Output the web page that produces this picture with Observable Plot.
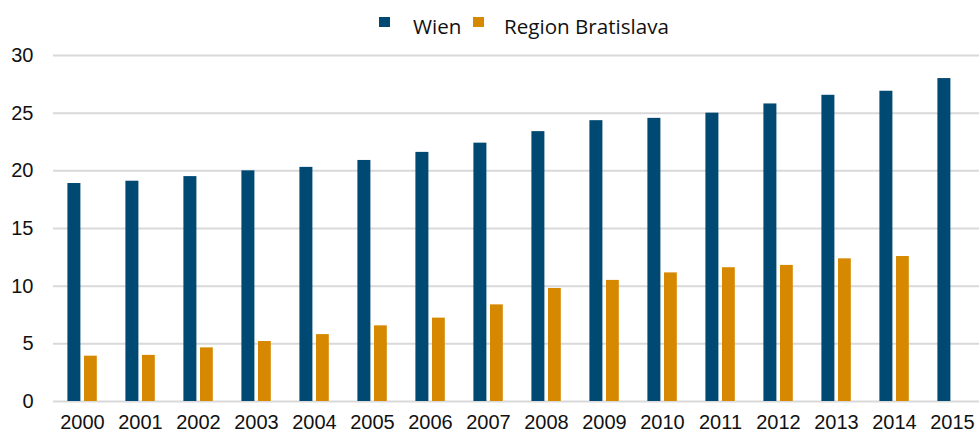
<!DOCTYPE html>
<html>
<head>
<meta charset="utf-8">
<script src="https://cdn.jsdelivr.net/npm/d3@7"></script>
<script src="https://cdn.jsdelivr.net/npm/@observablehq/plot@0.6"></script>
<style>
  html, body { margin: 0; padding: 0; background: #fff; }
  #wrap { width: 979px; height: 434px; position: relative; overflow: hidden; }
  #legend { height: 40px; position: relative; font-family: "Open Sans", sans-serif; font-size: 20.6px; color: #111; }
  .sw { position: absolute; top: 17px; width: 11px; height: 10px; }
  .lt { position: absolute; top: 12px; line-height: 28px; white-space: nowrap; }
  svg { display: block; }
</style>
</head>
<body>
<div id="wrap">
  <div id="legend"></div>
  <div id="chart"></div>
</div>
<script>
const years = ["2000","2001","2002","2003","2004","2005","2006","2007","2008","2009","2010","2011","2012","2013","2014","2015"];
const wien = [18.9, 19.1, 19.5, 20.0, 20.3, 20.9, 21.6, 22.4, 23.4, 24.35, 24.55, 25.0, 25.8, 26.55, 26.9, 28.0];
const bratislava = [3.93, 4.0, 4.65, 5.2, 5.8, 6.56, 7.23, 8.38, 9.8, 10.5, 11.15, 11.6, 11.8, 12.37, 12.57, null];
const seriesNames = ["Wien", "Region Bratislava"];
const colors = ["#004972", "#D68900"];
const yTicks = [0, 5, 10, 15, 20, 25, 30];

const wienData = years.map((y, i) => ({year: y, value: wien[i]}));
const bratData = years.map((y, i) => ({year: y, value: bratislava[i]})).filter(d => d.value != null);

// Legend
const legend = document.getElementById("legend");
const legendPos = [{sw: 379, tx: 413}, {sw: 473, tx: 504}];
seriesNames.forEach((name, i) => {
  const s = document.createElement("div");
  s.className = "sw";
  s.style.left = legendPos[i].sw + "px";
  s.style.background = colors[i];
  legend.appendChild(s);
  const t = document.createElement("div");
  t.className = "lt";
  t.style.left = legendPos[i].tx + "px";
  t.textContent = name;
  legend.appendChild(t);
});

const chart = Plot.plot({
  width: 979,
  height: 394,
  marginTop: 15,
  marginBottom: 33,
  marginLeft: 53,
  marginRight: 0,
  style: {fontFamily: "'Liberation Sans', Arial, sans-serif", fontSize: "20px", color: "#111", background: "#fff"},
  x: {type: "band", domain: years, range: [51, 983.8], padding: 0, label: null},
  y: {domain: [0, 30], label: null},
  marks: [
    Plot.ruleY(yTicks, {stroke: "#d9d9d9", strokeWidth: 2}),
    Plot.barY(wienData, {x: "year", y: "value", fill: colors[0], insetLeft: 14.4, insetRight: 30.6}),
    Plot.barY(bratData, {x: "year", y: "value", fill: colors[1], insetLeft: 31, insetRight: 14.2}),
    Plot.axisY(yTicks, {tickSize: 0, tickPadding: 20, fontSize: 20, fill: "#111", label: null}),
    Plot.axisX(years, {tickSize: 0, tickPadding: 13, fontSize: 20, fill: "#111", label: null})
  ]
});
document.getElementById("chart").appendChild(chart);
</script>
</body>
</html>
